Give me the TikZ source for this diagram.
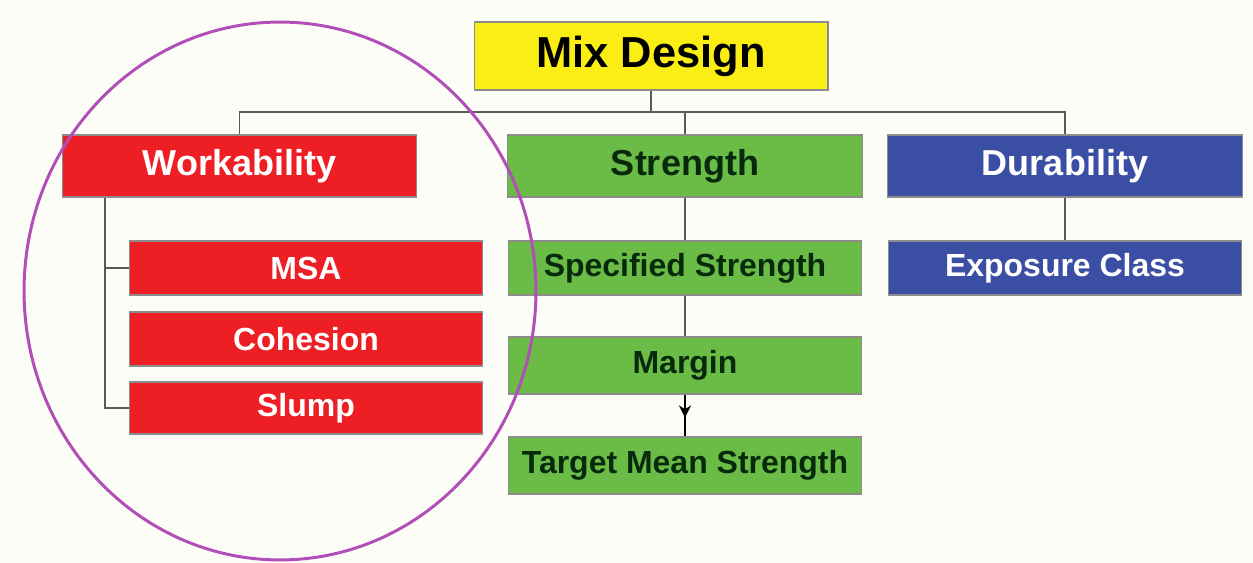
\documentclass[tikz,border=0pt]{standalone}
\usepackage{fontspec}
\setmainfont{Liberation Sans}
\usetikzlibrary{arrows.meta,decorations.markings}

\definecolor{paper}{RGB}{253,253,247}
\definecolor{mixyellow}{RGB}{250,238,20}
\definecolor{workred}{RGB}{237,30,36}
\definecolor{strgreen}{RGB}{106,188,70}
\definecolor{durblue}{RGB}{58,78,164}
\definecolor{darkgreen}{RGB}{8,42,12}
\definecolor{ringpink}{RGB}{178,78,184}

\begin{document}
\begin{tikzpicture}[x=0.02cm,y=-0.02cm,
  box/.style={draw=black!45,line width=0.6pt,inner sep=0pt,font=\bfseries},
  topbox/.style={box,fill=mixyellow,minimum width=7.08cm,minimum height=1.36cm,
    font=\bfseries\fontsize{24.7}{28}\selectfont},
  mainbox/.style={box,minimum width=7.1cm,minimum height=1.24cm,
    font=\bfseries\fontsize{20.5}{24}\selectfont},
  subbox/.style={box,minimum width=7.06cm,minimum height=1.08cm,
    font=\bfseries\fontsize{18.2}{22}\selectfont},
  red/.style={fill=workred,text=white},
  green/.style={fill=strgreen,text=darkgreen},
  blue/.style={fill=durblue,text=white},
  link/.style={draw=black!65,line width=0.8pt}]
  \fill[paper] (0,0) rectangle (1253,563);
  \useasboundingbox (0,0) rectangle (1253,563);

  \node[topbox] (mix) at (651,56) {Mix Design};

  \node[mainbox,red] (work) at (239.5,166) {Workability};
  \node[mainbox,green] (strength) at (685,166) {Strength};
  \node[mainbox,blue] (dura) at (1065,166) {Durability};

  \node[subbox,red] (msa) at (306,268) {MSA};
  \node[subbox,red] (cohesion) at (306,339) {Cohesion};
  \node[subbox,red,minimum height=1.04cm] (slump) at (306,408) {Slump};

  \node[subbox,green] (spec) at (685,268) {Specified Strength};
  \node[subbox,green,minimum height=1.14cm] (margin) at (685,365.5) {Margin};
  \node[subbox,green,minimum height=1.14cm] (target) at (685,465.5) {Target Mean Strength};

  \node[subbox,blue] (expo) at (1065,268) {Exposure Class};

  \coordinate (bus) at (0,112);
  \coordinate (trunk) at (105,0);

  \draw[link] (mix.south) -- (mix.south |- bus);
  \draw[link] (work.north) |- (dura.north |- bus) -- (dura.north);
  \draw[link] (strength.north) -- (strength.north |- bus);

  \draw[link] (work.south -| trunk) |- (slump.west);
  \draw[link] (msa.west) -- (msa.west -| trunk);

  \draw[link] (strength) -- (spec);
  \draw[link] (spec) -- (margin);
  \draw[link,draw=black,postaction={decorate},
    decoration={markings,mark=at position 0.55 with {\arrow{Stealth[length=7pt,width=7pt]}}}]
    (margin.south) -- (target.north);

  \draw[link] (dura) -- (expo);

  \draw[ringpink,line width=1.7pt] (280,291) ellipse [x radius=5.12cm,y radius=5.38cm];
\end{tikzpicture}
\end{document}
